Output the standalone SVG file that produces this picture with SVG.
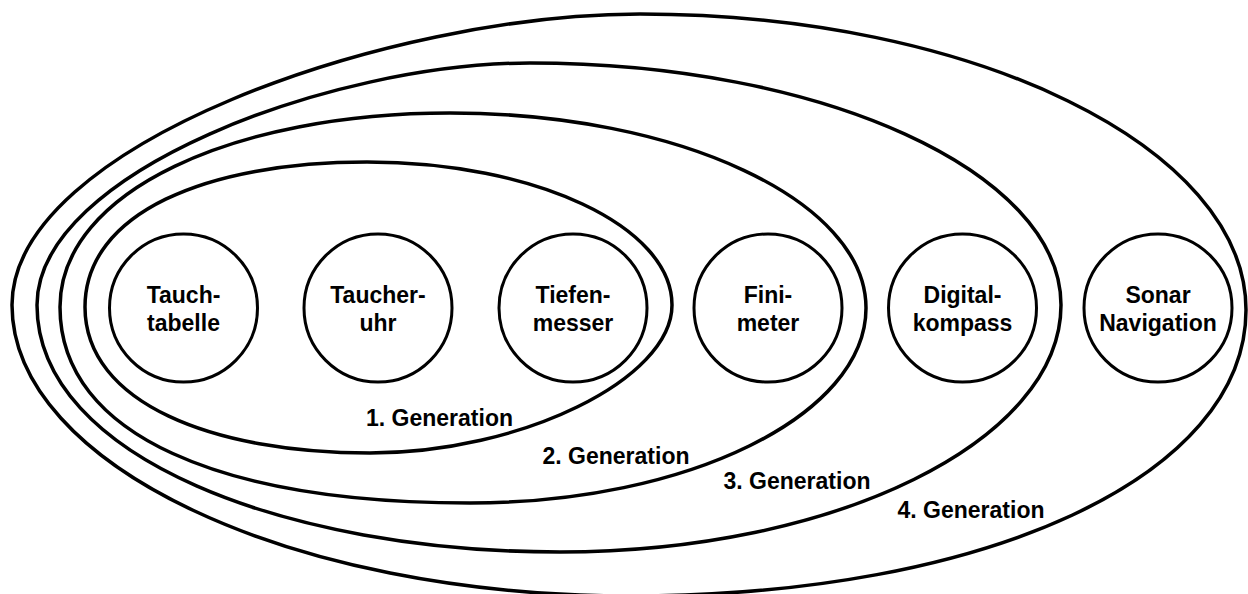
<svg xmlns="http://www.w3.org/2000/svg" width="1248" height="594" viewBox="0 0 1248 594">
  <style>
    .gen { fill: none; stroke: #000; stroke-width: 3.5; }
    .node circle { fill: #fff; stroke: #000; stroke-width: 3; }
    text { font-family: "Liberation Sans", Arial, Helvetica, sans-serif; font-weight: bold; font-size: 23px; fill: #000; text-anchor: middle; }
  </style>
  <rect x="0" y="0" width="1248" height="594" fill="#fff"/>

  <g id="gen4">
    <path class="gen" d="M12,305 C12,145 388.8,14 640,14 C973.3,14 1246,147.2 1246,310 C1246,475.9 987.3,596 630,596 C290.1,596 12,465.1 12,305 Z"/>
    <text x="971" y="518">4. Generation</text>
  </g>
  <g id="gen3">
    <path class="gen" d="M37,305 C37,171.9 332.8,63 530,63 C822,63 1061,171.9 1061,305 C1061,440.9 835.6,552 560,552 C288,552 37,458.1 37,305 Z"/>
    <text x="797" y="489">3. Generation</text>
  </g>
  <g id="gen2">
    <path class="gen" d="M60,307 C60,190.6 235.5,113 450,113 C678.8,113 866,200.8 866,308 C866,415.3 687.8,503 470,503 C224,503 60,436.4 60,307 Z"/>
    <text x="616" y="464">2. Generation</text>
  </g>
  <g id="gen1">
    <path class="gen" d="M85,307 C85,212.8 206.3,162 367,162 C534.8,162 672,226.4 672,305 C672,379 521,453 370,453 C213.3,453 85,403.4 85,307 Z"/>
    <text x="439.5" y="426">1. Generation</text>
  </g>

  <g id="connectors"/>

  <g id="tauchtabelle" class="node">
    <circle cx="183.5" cy="308" r="74"/>
    <text x="183.5" y="303">Tauch-</text>
    <text x="183.5" y="331">tabelle</text>
  </g>
  <g id="taucheruhr" class="node">
    <circle cx="378" cy="308" r="74"/>
    <text x="378" y="303">Taucher-</text>
    <text x="378" y="331">uhr</text>
  </g>
  <g id="tiefenmesser" class="node">
    <circle cx="573" cy="308" r="74"/>
    <text x="573" y="303">Tiefen-</text>
    <text x="573" y="331">messer</text>
  </g>
  <g id="finimeter" class="node">
    <circle cx="768" cy="308" r="74"/>
    <text x="768" y="303">Fini-</text>
    <text x="768" y="331">meter</text>
  </g>
  <g id="digitalkompass" class="node">
    <circle cx="962.5" cy="308" r="74"/>
    <text x="962.5" y="303">Digital-</text>
    <text x="962.5" y="331">kompass</text>
  </g>
  <g id="sonar-navigation" class="node">
    <circle cx="1158" cy="308" r="74"/>
    <text x="1158" y="303">Sonar</text>
    <text x="1158" y="331">Navigation</text>
  </g>
</svg>
